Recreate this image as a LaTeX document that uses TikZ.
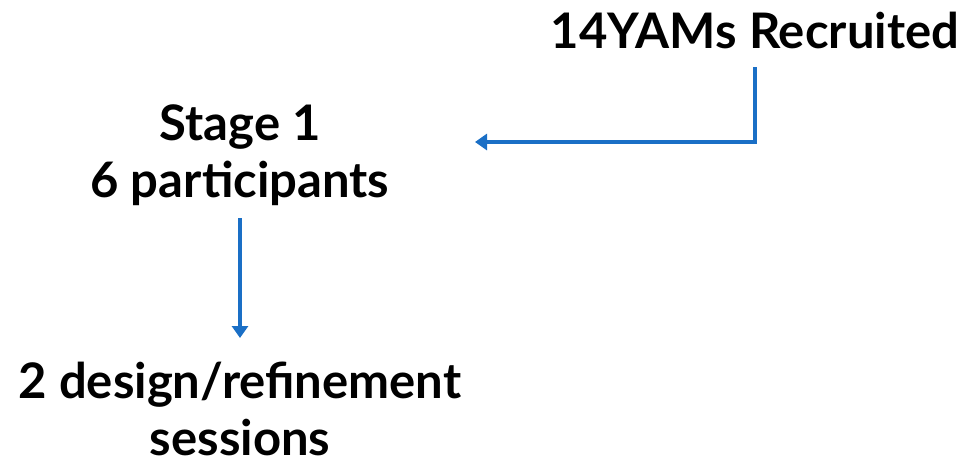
\documentclass[tikz,border=0pt]{standalone}
\usepackage{fontspec}
\setmainfont{Lato}
\usetikzlibrary{arrows.meta}
\definecolor{arrowblue}{HTML}{1A6FC6}
\begin{document}
\begin{tikzpicture}[x=1pt,y=-1pt,
  lbl/.style={font=\fontsize{49}{57}\selectfont\bfseries, align=center, inner sep=0pt, anchor=base},
  conn/.style={draw=arrowblue, line width=4pt, -{Triangle[length=12pt,width=16pt]}}]
\useasboundingbox (0,0) rectangle (969,458);
\node[lbl] (top) at (755,48) {14YAMs Recruited};
\node[lbl] (stage) at (240,197) {Stage 1\\6 participants};
\node[lbl] (design) at (240,455) {2 design/refinement\\sessions};
\coordinate (a1end) at (475,142);
\draw[conn] ([yshift=-19pt]top.base) |- (a1end);
\draw[conn] ([yshift=-21pt]stage.base) -- ([yshift=117pt]design.base);
\end{tikzpicture}
\end{document}
